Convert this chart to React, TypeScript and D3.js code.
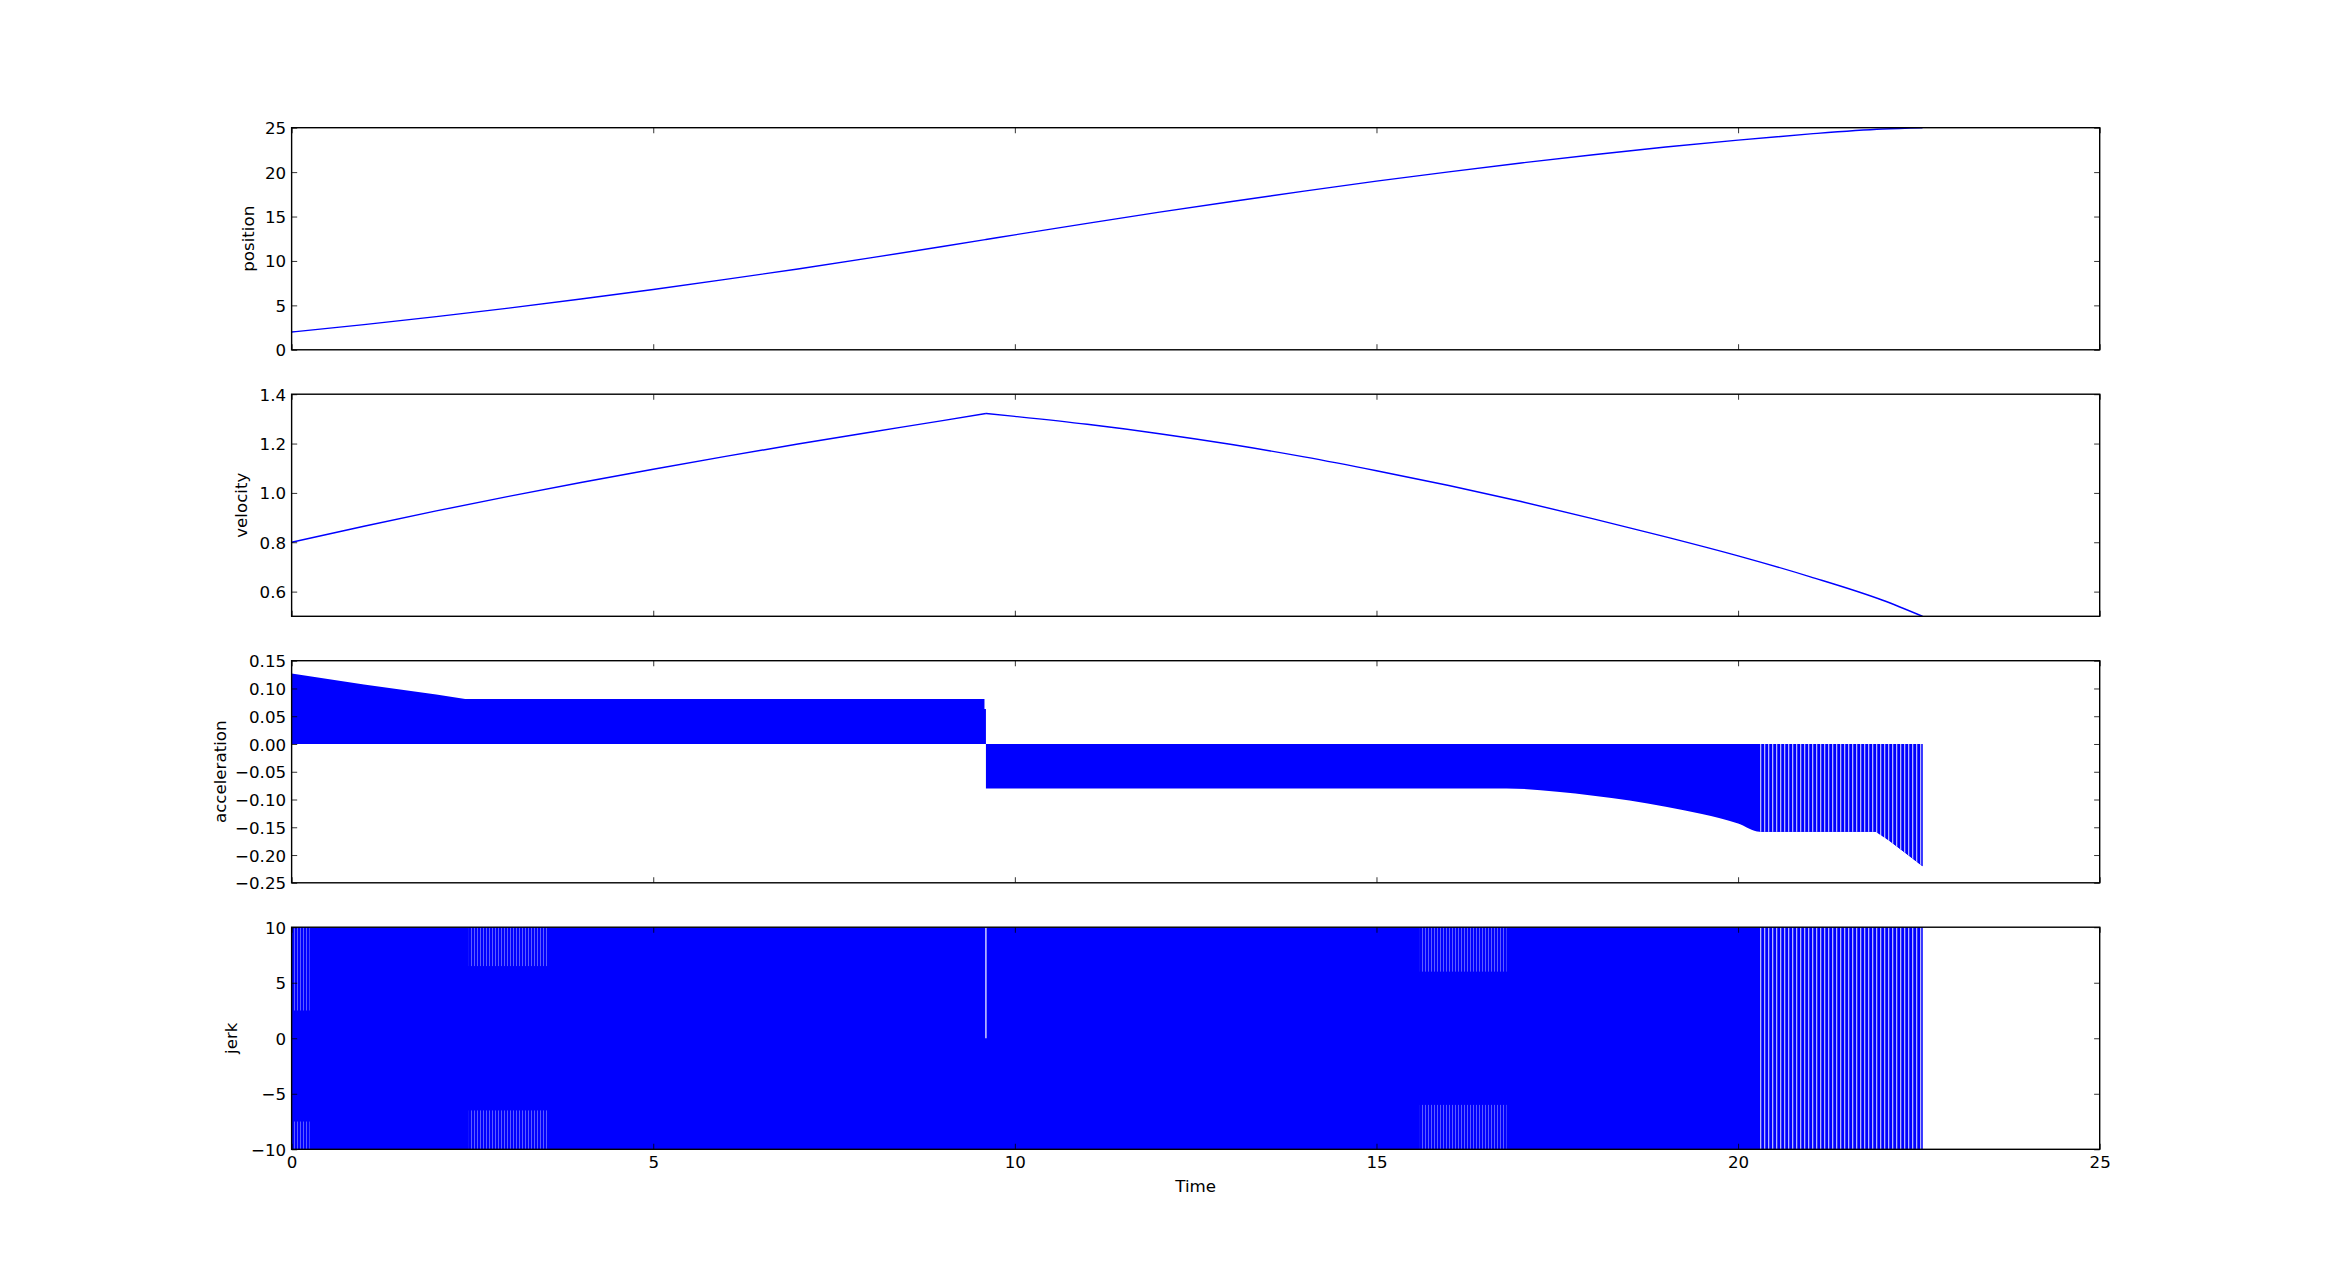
import React, { useEffect, useRef } from 'react';
import * as d3 from 'd3';

const WIDTH = 2333;
const HEIGHT = 1277;

// shared time axis
const timeTicks = [0, 5, 10, 15, 20, 25];

// position
const posTime = [0, 1, 2, 3, 4, 5, 6, 7, 8, 9, 9.6, 10, 11, 12, 13, 14, 15, 16, 17, 18, 19, 20, 21, 22, 22.55];
const posValue = [2.0, 2.83, 3.73, 4.69, 5.71, 6.79, 7.92, 9.1, 10.34, 11.62, 12.41, 12.94, 14.23, 15.49, 16.7, 17.86, 18.98, 20.03, 21.03, 21.96, 22.82, 23.6, 24.3, 24.85, 25.0];
const posTicks = [0, 5, 10, 15, 20, 25];

// velocity: rising leg, then falling leg after the switch at 9.6
const velUpTime = [0, 1, 2, 3, 4, 5, 6, 7, 8, 9, 9.6];
const velUpValue = [0.8, 0.865, 0.927, 0.986, 1.042, 1.096, 1.148, 1.198, 1.246, 1.293, 1.322];
const velDownTime = [9.6, 10, 11, 12, 13, 14, 15, 16, 17, 18, 19, 20, 21, 22, 22.55];
const velDownValue = [1.322, 1.31, 1.278, 1.24, 1.196, 1.146, 1.09, 1.03, 0.965, 0.895, 0.822, 0.745, 0.66, 0.565, 0.5];
const velTicks = [0.6, 0.8, 1.0, 1.2, 1.4];

// acceleration switches between 0 and these envelopes every step
const accUpTime = [0, 0.5, 1, 1.5, 2, 2.4, 9.58, 9.58, 9.6];
const accUpValue = [0.127, 0.117, 0.107, 0.098, 0.089, 0.081, 0.081, 0.063, 0.063];
const accDownTime = [9.6, 16.8, 17.5, 18, 18.5, 19, 19.5, 20, 20.3, 21.9, 22.1, 22.3, 22.55];
const accDownValue = [-0.08, -0.08, -0.086, -0.093, -0.102, -0.113, -0.126, -0.143, -0.158, -0.158, -0.175, -0.195, -0.22];
const accTicks = [-0.25, -0.2, -0.15, -0.1, -0.05, 0, 0.05, 0.1, 0.15];

// jerk saturates at +/-10 the whole run
const jerkTime = [0, 22.55];
const jerkLow = [-10, -10];
const jerkHigh = [10, 10];
const jerkTicks = [-10, -5, 0, 5, 10];
// sparser (striped) stretches: [t0, t1, low, high]
const jerkSparse = [
  [0, 0.25, 2.5, 10],
  [0, 0.25, -10, -7.5],
  [2.45, 3.55, 6.5, 10],
  [2.45, 3.55, -10, -6.5],
  [15.6, 16.8, 6, 10],
  [15.6, 16.8, -10, -6],
];
const jerkOpen = [[20.3, 22.55, -10, 10]];
// dropout at the switch: [t, low, high]
const jerkGap = [[9.6, 0, 10]];

const App = () => {
  const svgRef = useRef<SVGSVGElement>(null);

  useEffect(() => {
    const svg = d3.select(svgRef.current);
    svg.selectAll('*').remove();

    const left = WIDTH * 0.125;
    const right = WIDTH * 0.9;
    const top = HEIGHT * 0.1;
    const bottom = HEIGHT * 0.9;
    const ph = (bottom - top) / 4.6;
    const gap = ph * 0.2;
    const font = 'DejaVu Sans';
    const fs = 16.67;
    const tick = 5.56;
    const blue = '#0000ff';

    const x = d3.scaleLinear().domain([0, 25]).range([left, right]);

    const defs = svg.append('defs');
    const pattern = (id: string, w: number, lw: number, c: string) => {
      const p = defs.append('pattern').attr('id', id)
        .attr('patternUnits', 'userSpaceOnUse').attr('width', w).attr('height', 10);
      p.append('rect').attr('width', w).attr('height', 10).attr('fill', blue);
      p.append('rect').attr('width', lw).attr('height', 10).attr('fill', c);
    };
    pattern('sparse', 3, 1, '#5c5cff');
    pattern('open', 4, 1.3, '#b4b4ff');

    const panels = [
      { name: 'position', domain: [0, 25], ticks: posTicks, fmt: d3.format('d'), labelX: 253.5 },
      { name: 'velocity', domain: [0.5, 1.4], ticks: velTicks, fmt: d3.format('.1f'), labelX: 246.5 },
      { name: 'acceleration', domain: [-0.25, 0.15], ticks: accTicks, fmt: d3.format('.2f'), labelX: 225.5 },
      { name: 'jerk', domain: [-10, 10], ticks: jerkTicks, fmt: d3.format('d'), labelX: 236.5 },
    ];

    const bands = (plot: any, y: any, cls: string, rows: number[][], fill: string) => {
      plot.selectAll(`rect.${cls}`).data(rows).join('rect').attr('class', cls)
        .attr('x', (d: number[]) => x(d[0])).attr('width', (d: number[]) => x(d[1]) - x(d[0]))
        .attr('y', (d: number[]) => y(d[3])).attr('height', (d: number[]) => y(d[2]) - y(d[3]))
        .attr('fill', fill);
    };

    panels.forEach((p, i) => {
      const y0 = top + i * (ph + gap);
      const y = d3.scaleLinear().domain(p.domain).range([y0 + ph, y0]);

      defs.append('clipPath').attr('id', `clip${i}`)
        .append('rect').attr('x', left).attr('y', y0).attr('width', right - left).attr('height', ph);
      const plot = svg.append('g').attr('clip-path', `url(#clip${i})`);

      const drawLine = (ts: number[], vs: number[]) => {
        const line = d3.line<number>().x((_, k) => x(ts[k])).y(d => y(d)).curve(d3.curveMonotoneX);
        plot.append('path').attr('d', line(vs)).attr('fill', 'none')
          .attr('stroke', blue).attr('stroke-width', 1.4).attr('stroke-linejoin', 'round');
      };

      if (i === 0) drawLine(posTime, posValue);
      if (i === 1) {
        drawLine(velUpTime, velUpValue);
        drawLine(velDownTime, velDownValue);
      }

      if (i === 2) {
        const area = (ts: number[]) => d3.area<number>()
          .x((_, k) => x(ts[k])).y0(y(0)).y1(d => y(d));
        plot.append('path').attr('d', area(accUpTime)(accUpValue)).attr('fill', blue);
        plot.append('path').attr('d', area(accDownTime).curve(d3.curveMonotoneX)(accDownValue)).attr('fill', blue);
        // sparse tail where the switching slows down
        const tailT = accDownTime.filter(t => t >= 20.3);
        const tailV = accDownValue.slice(accDownTime.length - tailT.length);
        plot.append('path').attr('d', area(tailT)(tailV)).attr('fill', 'url(#open)');
      }

      if (i === 3) {
        const band = d3.area<number>()
          .x((_, k) => x(jerkTime[k])).y0((_, k) => y(jerkLow[k])).y1(d => y(d));
        plot.append('path').attr('d', band(jerkHigh)).attr('fill', blue);
        bands(plot, y, 'sparse', jerkSparse, 'url(#sparse)');
        bands(plot, y, 'open', jerkOpen, 'url(#open)');
        plot.selectAll('line.gap').data(jerkGap).join('line').attr('class', 'gap')
          .attr('x1', d => x(d[0])).attr('x2', d => x(d[0]))
          .attr('y1', d => y(d[1])).attr('y2', d => y(d[2]))
          .attr('stroke', '#fff').attr('stroke-width', 1.2);
      }

      // ticks on all four sides, pointing in
      const styleAxis = (g: any) => {
        g.select('.domain').remove();
        g.selectAll('line').attr('stroke', '#000').attr('stroke-width', 0.8);
        g.selectAll('text').attr('font-family', font).attr('font-size', fs).attr('fill', '#000');
      };
      svg.append('g').attr('transform', `translate(${left},0)`)
        .call(d3.axisLeft(y).tickValues(p.ticks).tickFormat(p.fmt as any)
          .tickSizeInner(-tick).tickSizeOuter(0).tickPadding(tick))
        .call(styleAxis)
        .selectAll('text').attr('dy', '0.36em');
      svg.append('g').attr('transform', `translate(${right},0)`)
        .call(d3.axisRight(y).tickValues(p.ticks).tickFormat(() => '')
          .tickSizeInner(-tick).tickSizeOuter(0))
        .call(styleAxis);
      svg.append('g').attr('transform', `translate(0,${y0})`)
        .call(d3.axisTop(x).tickValues(timeTicks).tickFormat(() => '')
          .tickSizeInner(-tick).tickSizeOuter(0))
        .call(styleAxis);
      svg.append('g').attr('transform', `translate(0,${y0 + ph})`)
        .call(d3.axisBottom(x).tickValues(timeTicks)
          .tickFormat(i === 3 ? (d3.format('d') as any) : () => '')
          .tickSizeInner(-tick).tickSizeOuter(0).tickPadding(7))
        .call(styleAxis);

      svg.append('rect').attr('x', left).attr('y', y0)
        .attr('width', right - left).attr('height', ph)
        .attr('fill', 'none').attr('stroke', '#000').attr('stroke-width', 1.4);

      svg.append('text')
        .attr('transform', `translate(${p.labelX},${y0 + ph / 2}) rotate(-90)`)
        .attr('text-anchor', 'middle')
        .attr('font-family', font).attr('font-size', fs)
        .text(p.name);

      if (i === 3) {
        svg.append('text')
          .attr('x', (left + right) / 2).attr('y', y0 + ph + 43)
          .attr('text-anchor', 'middle')
          .attr('font-family', font).attr('font-size', fs)
          .text('Time');
      }
    });
  }, []);

  return (
    <div style={{ position: 'absolute', left: 0, top: 0 }}>
      <svg ref={svgRef} width={WIDTH} height={HEIGHT} style={{ display: 'block', background: '#fff' }} />
    </div>
  );
};

export default App;
